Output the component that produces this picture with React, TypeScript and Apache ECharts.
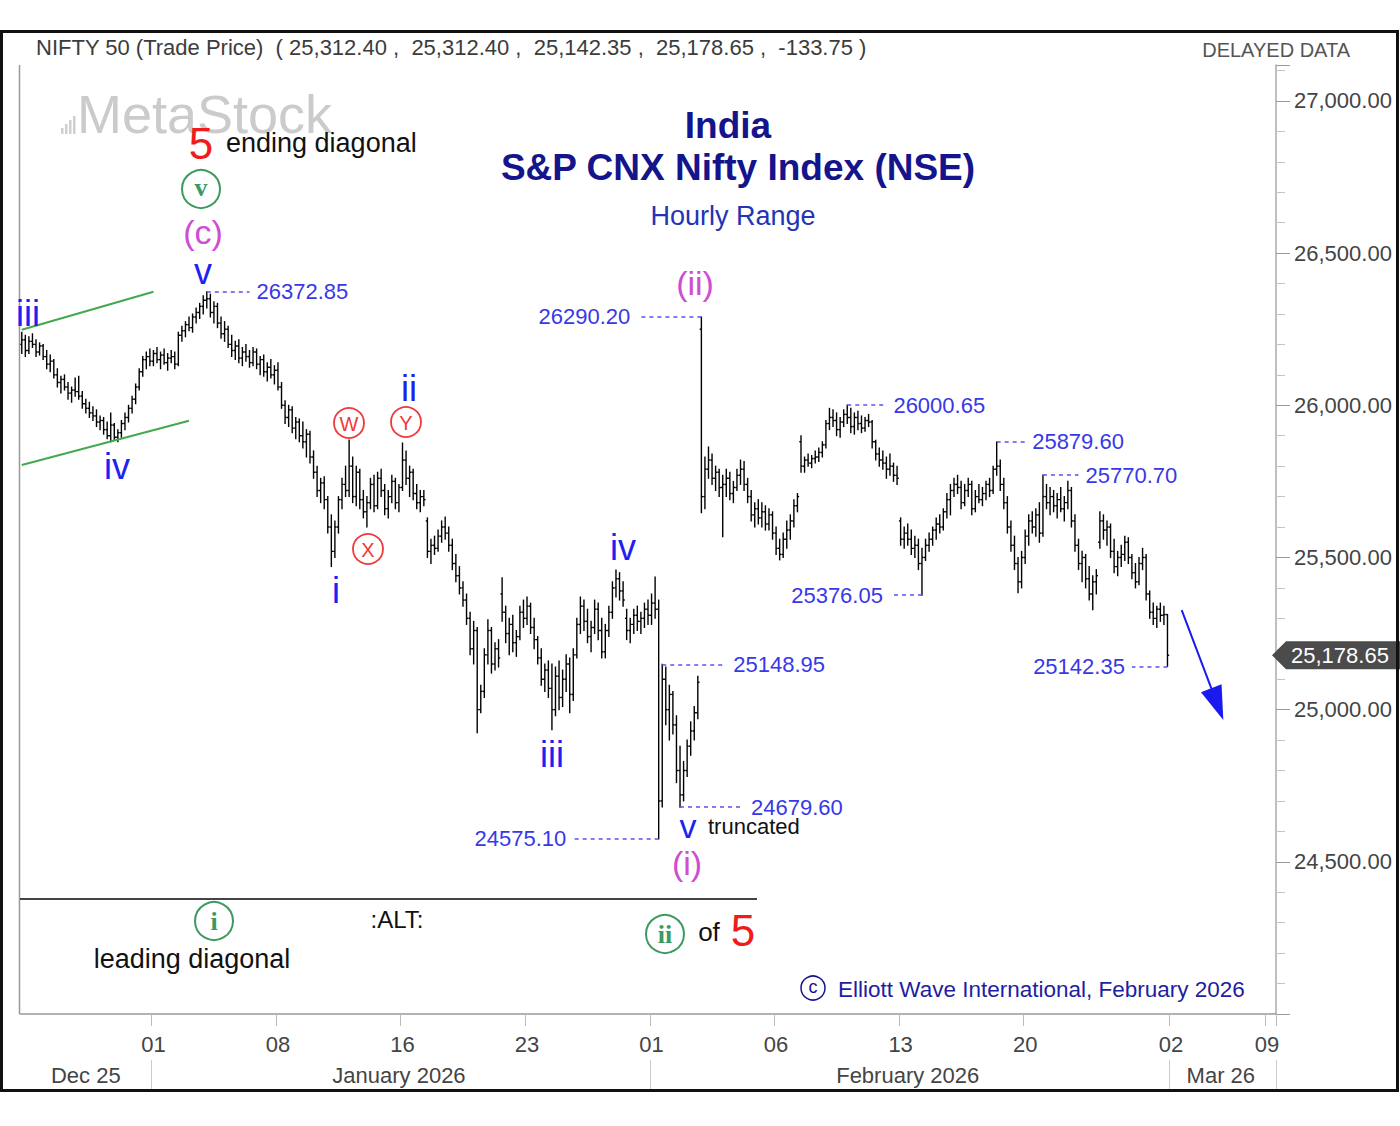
import React, { useEffect, useRef } from "react";
import * as echarts from "echarts";

// ---------- sessions (hourly bars per trading session) ----------
const sessionDates = [
  "2025-12-23", "2025-12-24", "2025-12-26", "2025-12-29", "2025-12-30", "2025-12-31",
  "2026-01-01", "2026-01-02", "2026-01-05", "2026-01-06", "2026-01-07", "2026-01-08",
  "2026-01-09", "2026-01-12", "2026-01-13", "2026-01-14", "2026-01-16", "2026-01-19",
  "2026-01-20", "2026-01-21", "2026-01-22", "2026-01-23", "2026-01-27", "2026-01-28",
  "2026-01-29", "2026-01-30", "2026-02-01", "2026-02-02", "2026-02-03", "2026-02-04",
  "2026-02-05", "2026-02-06", "2026-02-09", "2026-02-10", "2026-02-11", "2026-02-12",
  "2026-02-13", "2026-02-16", "2026-02-17", "2026-02-18", "2026-02-19", "2026-02-20",
  "2026-02-23", "2026-02-24", "2026-02-25", "2026-02-26", "2026-02-27",
];
const sessionBarCounts = [
  2, 7, 7, 7, 7, 7, 7, 7, 7, 7, 7, 7, 7, 7, 7, 7, 7, 7, 7, 7, 7, 7, 7, 7,
  7, 7, 7, 7, 7, 7, 7, 7, 7, 7, 7, 7, 7, 7, 7, 7, 7, 7, 7, 7, 7, 7, 6,
];
const futureDates = ["2026-03-02", "2026-03-03", "2026-03-04", "2026-03-05", "2026-03-06", "2026-03-09"];
const futureSlotCounts = [6, 6, 5, 5, 5, 3];

// ---------- hourly OHLC ----------
const opens = [
  26200, 26215,
  26180, 26210, 26200, 26175, 26195, 26160, 26135,
  26145, 26100, 26075, 26085, 26060, 26040, 26050,
  26045, 26030, 26005, 25990, 25975, 25965, 25945,
  25950, 25920, 25900, 25935, 25895, 25910, 25940,
  25960, 25990, 26020, 26060, 26110, 26150, 26160,
  26145, 26170, 26150, 26165, 26140, 26155, 26160,
  26135, 26230, 26245, 26265, 26255, 26290, 26305,
  26325, 26345, 26350, 26305, 26325, 26270, 26235,
  26250, 26200, 26180, 26195, 26155, 26175, 26160,
  26140, 26175, 26135, 26150, 26110, 26125, 26100,
  26115, 26060, 26000, 25960, 25985, 25925, 25945,
  25900, 25880, 25905, 25830, 25780, 25720, 25745,
  25690, 25600, 25520, 25600, 25690, 25740, 25720,
  25800, 25700, 25780, 25690, 25650, 25680, 25740,
  25670, 25760, 25720, 25660, 25700, 25750, 25680,
  25730, 25820, 25760, 25780, 25710, 25680, 25700,
  25620, 25520, 25540, 25530, 25570, 25600, 25580,
  25540, 25480, 25440, 25400, 25360, 25300, 25200,
  25260, 25000, 25060, 25180, 25260, 25150, 25200,
  25380, 25320, 25250, 25280, 25220, 25240, 25320,
  25300, 25340, 25270, 25230, 25170, 25100, 25130,
  25070, 25000, 25110, 25040, 25100, 25150, 25050,
  25180, 25280, 25340, 25290, 25240, 25270, 25330,
  25260, 25190, 25260, 25320, 25400, 25430, 25390,
  25300, 25260, 25280, 25310, 25290, 25300, 25330,
  25310, 25350, 25330, 24700, 25100, 25000, 25050,
  24950, 24800, 24720, 24800, 24880, 24930, 24990,
  26250, 25700, 25790, 25820, 25760, 25780, 25730,
  25740, 25760, 25710, 25730, 25770, 25790, 25740,
  25700, 25640, 25660, 25630, 25650, 25610, 25640,
  25580, 25530, 25510, 25560, 25590, 25620, 25670,
  25880, 25800, 25820, 25810, 25825, 25830, 25845,
  25870, 25940, 25960, 25950, 25920, 25945, 25970,
  25960, 25930, 25960, 25940, 25925, 25950, 25945,
  25880, 25840, 25820, 25810, 25790, 25800, 25770,
  25620, 25560, 25580, 25560, 25530, 25540, 25480,
  25500, 25540, 25560, 25590, 25610, 25600, 25650,
  25690, 25720, 25740, 25730, 25680, 25720, 25740,
  25660, 25700, 25690, 25710, 25740, 25720, 25790,
  25800, 25740, 25680, 25600, 25540, 25480, 25420,
  25500, 25570, 25620, 25600, 25640, 25580, 25700,
  25680, 25700, 25670, 25690, 25660, 25680, 25720,
  25620, 25540, 25480, 25500, 25430, 25380, 25420,
  25550, 25620, 25590, 25600, 25520, 25470, 25500,
  25510, 25550, 25500, 25450, 25420, 25480, 25500,
  25380, 25320, 25300, 25330, 25310, 25312.4,
];
const highs = [
  26240, 26230,
  26225, 26235, 26215, 26205, 26200, 26180, 26165,
  26150, 26120, 26095, 26100, 26075, 26060, 26090,
  26095, 26045, 26020, 26010, 25995, 25985, 25965,
  25960, 25945, 25975, 25940, 25920, 25950, 25975,
  26000, 26030, 26070, 26120, 26160, 26175, 26185,
  26180, 26190, 26175, 26185, 26170, 26180, 26175,
  26240, 26260, 26275, 26290, 26300, 26320, 26335,
  26360, 26372.85, 26365, 26340, 26335, 26290, 26275,
  26260, 26230, 26210, 26215, 26190, 26200, 26180,
  26190, 26185, 26160, 26165, 26140, 26150, 26130,
  26140, 26075, 26015, 26000, 25995, 25960, 25955,
  25945, 25920, 25915, 25850, 25800, 25760, 25765,
  25700, 25640, 25620, 25700, 25760, 25800, 25886,
  25830, 25800, 25790, 25720, 25700, 25760, 25770,
  25780, 25790, 25740, 25720, 25770, 25760, 25740,
  25876, 25850, 25800, 25790, 25740, 25720, 25720,
  25630, 25560, 25570, 25590, 25620, 25633, 25600,
  25560, 25510, 25470, 25420, 25380, 25320, 25290,
  25270, 25080, 25200, 25295, 25270, 25220, 25230,
  25433, 25340, 25300, 25310, 25260, 25340, 25360,
  25370, 25350, 25300, 25240, 25200, 25150, 25160,
  25150, 25140, 25160, 25130, 25180, 25170, 25200,
  25300, 25370, 25360, 25330, 25290, 25360, 25350,
  25300, 25280, 25340, 25420, 25459, 25450, 25420,
  25330, 25300, 25330, 25340, 25320, 25350, 25360,
  25380, 25436, 25360, 25148.95, 25140, 25080, 25060,
  24980, 24880, 24830, 24900, 24960, 25010, 25110,
  26290.2, 25830, 25863, 25840, 25800, 25790, 25770,
  25790, 25780, 25750, 25790, 25820, 25815, 25760,
  25720, 25680, 25690, 25680, 25670, 25660, 25650,
  25600, 25560, 25580, 25620, 25640, 25690, 25710,
  25900, 25830, 25840, 25835, 25850, 25860, 25880,
  25950, 25990, 25985, 25975, 25960, 25985, 26000.65,
  25990, 25975, 25980, 25965, 25960, 25970, 25950,
  25885, 25860, 25850, 25830, 25840, 25810, 25800,
  25630, 25600, 25610, 25590, 25570, 25560, 25530,
  25560, 25580, 25600, 25630, 25640, 25660, 25710,
  25740, 25760, 25770, 25750, 25740, 25760, 25750,
  25720, 25740, 25730, 25750, 25760, 25800, 25879.6,
  25820, 25760, 25700, 25620, 25570, 25500, 25520,
  25590, 25640, 25650, 25660, 25680, 25770.7, 25740,
  25730, 25720, 25710, 25730, 25700, 25750, 25730,
  25640, 25560, 25520, 25510, 25470, 25440, 25460,
  25650, 25640, 25620, 25610, 25560, 25520, 25540,
  25570, 25565, 25510, 25480, 25500, 25530, 25510,
  25390, 25350, 25340, 25350, 25340, 25312.4,
];
const lows = [
  26170, 26160,
  26170, 26190, 26160, 26165, 26150, 26120, 26110,
  26090, 26060, 26040, 26050, 26020, 26010, 26030,
  26020, 25990, 25975, 25960, 25950, 25930, 25920,
  25905, 25890, 25880, 25885, 25880, 25895, 25920,
  25945, 25975, 26005, 26050, 26095, 26120, 26130,
  26130, 26140, 26120, 26135, 26115, 26140, 26120,
  26130, 26210, 26225, 26245, 26240, 26270, 26285,
  26300, 26320, 26290, 26270, 26255, 26220, 26210,
  26190, 26160, 26150, 26140, 26130, 26145, 26125,
  26130, 26120, 26100, 26095, 26080, 26090, 26070,
  26050, 25990, 25940, 25930, 25910, 25890, 25880,
  25860, 25830, 25810, 25760, 25700, 25680, 25660,
  25580, 25470, 25500, 25580, 25660, 25700, 25700,
  25680, 25670, 25660, 25630, 25600, 25660, 25650,
  25660, 25700, 25640, 25630, 25680, 25660, 25650,
  25720, 25740, 25700, 25690, 25660, 25650, 25670,
  25500, 25480, 25510, 25520, 25550, 25560, 25520,
  25460, 25420, 25380, 25340, 25280, 25180, 25150,
  24924, 24990, 25040, 25150, 25120, 25130, 25140,
  25290, 25220, 25180, 25190, 25175, 25230, 25270,
  25280, 25250, 25200, 25150, 25080, 25060, 25040,
  24934, 24980, 25000, 25010, 25060, 24990, 25030,
  25170, 25250, 25260, 25220, 25190, 25250, 25230,
  25170, 25170, 25240, 25300, 25370, 25360, 25340,
  25230, 25220, 25250, 25260, 25250, 25270, 25280,
  25280, 25300, 24575.1, 24680, 24950, 24900, 24920,
  24760, 24679.6, 24700, 24780, 24850, 24900, 24970,
  25647, 25660, 25760, 25740, 25720, 25700, 25568,
  25700, 25690, 25680, 25720, 25740, 25720, 25680,
  25620, 25600, 25610, 25600, 25590, 25590, 25560,
  25510, 25492, 25500, 25530, 25560, 25600, 25650,
  25780, 25780, 25800, 25795, 25810, 25815, 25830,
  25860, 25920, 25930, 25900, 25895, 25930, 25940,
  25910, 25905, 25920, 25910, 25915, 25930, 25860,
  25820, 25800, 25790, 25760, 25770, 25750, 25740,
  25540, 25530, 25540, 25510, 25500, 25460, 25376.05,
  25490, 25520, 25540, 25560, 25580, 25590, 25630,
  25640, 25700, 25710, 25660, 25670, 25700, 25640,
  25650, 25680, 25670, 25690, 25700, 25710, 25770,
  25720, 25660, 25580, 25520, 25460, 25384, 25400,
  25480, 25540, 25580, 25570, 25550, 25570, 25660,
  25640, 25650, 25630, 25650, 25620, 25660, 25600,
  25520, 25460, 25420, 25400, 25360, 25328, 25380,
  25530, 25560, 25540, 25500, 25450, 25440, 25470,
  25490, 25480, 25430, 25400, 25410, 25460, 25360,
  25300, 25280, 25270, 25290, 25280, 25142.35,
];
const closes = [
  26215, 26180,
  26210, 26200, 26175, 26195, 26160, 26135, 26145,
  26100, 26075, 26085, 26060, 26040, 26050, 26045,
  26030, 26005, 25990, 25975, 25965, 25945, 25950,
  25920, 25900, 25935, 25895, 25910, 25940, 25960,
  25990, 26020, 26060, 26110, 26150, 26160, 26145,
  26170, 26150, 26165, 26140, 26155, 26160, 26135,
  26230, 26245, 26265, 26255, 26290, 26305, 26325,
  26345, 26350, 26305, 26325, 26270, 26235, 26250,
  26200, 26180, 26195, 26155, 26175, 26160, 26140,
  26175, 26135, 26150, 26110, 26125, 26100, 26115,
  26060, 26000, 25960, 25985, 25925, 25945, 25900,
  25880, 25905, 25830, 25780, 25720, 25745, 25690,
  25600, 25520, 25600, 25690, 25740, 25720, 25800,
  25700, 25780, 25690, 25650, 25680, 25740, 25670,
  25760, 25720, 25660, 25700, 25750, 25680, 25730,
  25820, 25760, 25780, 25710, 25680, 25700, 25690,
  25520, 25540, 25530, 25570, 25600, 25580, 25540,
  25480, 25440, 25400, 25360, 25300, 25200, 25260,
  25000, 25060, 25180, 25260, 25150, 25200, 25170,
  25320, 25250, 25280, 25220, 25240, 25320, 25300,
  25340, 25270, 25230, 25170, 25100, 25130, 25070,
  25000, 25110, 25040, 25100, 25150, 25050, 25180,
  25280, 25340, 25290, 25240, 25270, 25330, 25260,
  25190, 25260, 25320, 25400, 25430, 25390, 25360,
  25260, 25280, 25310, 25290, 25300, 25330, 25310,
  25350, 25330, 24700, 25100, 25000, 25050, 24950,
  24800, 24720, 24800, 24880, 24930, 24990, 25090,
  25700, 25790, 25820, 25760, 25780, 25730, 25740,
  25760, 25710, 25730, 25770, 25790, 25740, 25700,
  25640, 25660, 25630, 25650, 25610, 25640, 25580,
  25530, 25510, 25560, 25590, 25620, 25670, 25700,
  25800, 25820, 25810, 25825, 25830, 25845, 25870,
  25940, 25960, 25950, 25920, 25945, 25970, 25960,
  25930, 25960, 25940, 25925, 25950, 25945, 25880,
  25840, 25820, 25810, 25790, 25800, 25770, 25760,
  25560, 25580, 25560, 25530, 25540, 25480, 25500,
  25540, 25560, 25590, 25610, 25600, 25650, 25690,
  25720, 25740, 25730, 25680, 25720, 25740, 25660,
  25700, 25690, 25710, 25740, 25720, 25790, 25800,
  25740, 25680, 25600, 25540, 25480, 25420, 25500,
  25570, 25620, 25600, 25640, 25580, 25700, 25680,
  25700, 25670, 25690, 25660, 25680, 25720, 25620,
  25540, 25480, 25500, 25430, 25380, 25420, 25440,
  25620, 25590, 25600, 25520, 25470, 25500, 25510,
  25550, 25500, 25450, 25420, 25480, 25500, 25380,
  25320, 25300, 25330, 25310, 25312.4, 25178.65,
];

// ---------- axis labels ----------
const dayTickDates = [
  "2026-01-01", "2026-01-08", "2026-01-16", "2026-01-23", "2026-02-01",
  "2026-02-06", "2026-02-13", "2026-02-20", "2026-03-02", "2026-03-09",
];
const monthStartDates = ["2025-12-23", "2026-01-01", "2026-02-01", "2026-03-02"];
const monthLabels = ["Dec 25", "January 2026", "February 2026", "Mar 26"];

// ---------- annotated price levels ----------
const levelValues = [26372.85, 26290.2, 26000.65, 25879.6, 25770.7, 25376.05, 25148.95, 25142.35, 24679.6, 24575.1];
const levelBarSlot = [52, 191, 232, 274, 287, 253, 180, 322, 185, 179];
const levelLabelSlot = [64, 173, 243, 282, 297, 244, 198, 312, 203, 155];

// channel lines (slot, price) and forecast arrow
const channelUpper = [[0, 26248], [37, 26373]];
const channelLower = [[0, 25804], [47, 25949]];
const forecastArrow = [[326, 25327], [336, 25018]];

const FONT = "'Liberation Sans', Arial, Helvetica, sans-serif";
const SERIF = "'Liberation Serif', 'Times New Roman', serif";
const BLUE = "#1e22f0";
const PRICE_BLUE = "#3838e8";
const MAGENTA = "#d04cd0";
const GREEN = "#3c9a5e";
const RED = "#f01c1c";
const NAVY = "#14148c";

function txt(text: string, x: number, y: number, fill: string, size: number, opt: any = {}) {
  const align = opt.align || "center";
  return {
    type: "text",
    x,
    y,
    z: 50,
    silent: true,
    style: {
      text,
      fill,
      font: `${opt.weight || "normal"} ${size}px ${opt.family || FONT}`,
      align,
      verticalAlign: "middle",
      textAlign: align,
      textVerticalAlign: "middle",
    },
  };
}
function circ(cx: number, cy: number, r: number, stroke: string, lw = 2) {
  return { type: "circle", z: 50, silent: true, shape: { cx, cy, r }, style: { fill: "none", stroke, lineWidth: lw } };
}
function ln(x1: number, y1: number, x2: number, y2: number, stroke: string, lw: number) {
  return { type: "line", z: 50, silent: true, shape: { x1, y1, x2, y2 }, style: { stroke, lineWidth: lw } };
}
const fmt = (v: number) => v.toLocaleString("en-US", { minimumFractionDigits: 2, maximumFractionDigits: 2 });

function buildOption(tagY: number | null) {
  const categories: string[] = [];
  sessionDates.forEach((d, k) => {
    for (let j = 0; j < sessionBarCounts[k]; j++) categories.push(`${d} ${j + 1}`);
  });
  futureDates.forEach((d, k) => {
    for (let j = 0; j < futureSlotCounts[k]; j++) categories.push(`${d} ${j + 1}`);
  });
  const n = Math.min(opens.length, highs.length, lows.length, closes.length);
  const bars = [];
  for (let i = 0; i < n; i++) bars.push([i, opens[i], closes[i], lows[i], highs[i]]);

  const dayTickIdx = new Set(dayTickDates.map((d) => categories.indexOf(`${d} 1`)));
  const monthStarts = monthStartDates.map((d) => categories.indexOf(`${d} 1`));
  const monthMid: Record<number, string> = {};
  monthStarts.forEach((s, k) => {
    const e = k + 1 < monthStarts.length ? monthStarts[k + 1] - 1 : categories.length - 1;
    monthMid[Math.floor((s + e) / 2)] = monthLabels[k];
  });
  const monthSep = new Set(monthStarts.filter((s) => s > 0));

  const last = n - 1;
  const header =
    `NIFTY 50 (Trade Price)\u00a0\u00a0( ${fmt(opens[last])} ,\u00a0\u00a0${fmt(highs[last])} ,\u00a0\u00a0` +
    `${fmt(lows[last])} ,\u00a0\u00a0${fmt(closes[last])} ,\u00a0\u00a0${(closes[last] - closes[last - 1]).toFixed(2)} )`;

  const levelLines = levelValues.map((v, k) => [
    {
      coord: [levelBarSlot[k], v],
      lineStyle: { type: [4, 4], color: "#5656ee", width: 1.6 },
      label: {
        show: true,
        position: "end",
        formatter: v.toFixed(2),
        color: PRICE_BLUE,
        fontSize: 22,
        fontFamily: FONT,
        distance: 7,
        padding: v === 24679.6 ? [0, 0, 12, 0] : 0,
      },
    },
    { coord: [levelLabelSlot[k], v] },
  ]);
  const greenStyle = { type: "solid", color: "#44a84e", width: 2 };
  const markData: any[] = [
    ...levelLines,
    [{ coord: channelUpper[0], lineStyle: greenStyle, label: { show: false } }, { coord: channelUpper[1] }],
    [{ coord: channelLower[0], lineStyle: greenStyle, label: { show: false } }, { coord: channelLower[1] }],
    [
      { coord: forecastArrow[0], symbol: "none", lineStyle: { type: "solid", color: "#1a1aee", width: 2 }, label: { show: false } },
      { coord: forecastArrow[1], symbol: "triangle", symbolSize: [22, 34] },
    ],
  ];

  const graphics: any[] = [
    // outer frame and plot borders
    { type: "rect", z: 60, silent: true, shape: { x: 1.5, y: 31.5, width: 1396, height: 1059 }, style: { fill: "none", stroke: "#111", lineWidth: 3 } },
    ln(19.5, 65, 19.5, 1014, "#999", 1.5),
    // watermark
    { type: "rect", z: 1, silent: true, shape: { x: 61, y: 128, width: 2.5, height: 6 }, style: { fill: "#cfcfcf" } },
    { type: "rect", z: 1, silent: true, shape: { x: 65, y: 124, width: 2.5, height: 10 }, style: { fill: "#cfcfcf" } },
    { type: "rect", z: 1, silent: true, shape: { x: 69, y: 120, width: 2.5, height: 14 }, style: { fill: "#cfcfcf" } },
    { type: "rect", z: 1, silent: true, shape: { x: 73, y: 116, width: 2.5, height: 18 }, style: { fill: "#cfcfcf" } },
    { ...txt("MetaStock", 77, 114, "#cbcbcb", 54, { align: "left" }), z: 1 },
    // header
    txt(header, 36, 47, "#3c3c3c", 22, { align: "left" }),
    txt("DELAYED DATA", 1350, 50, "#555", 20, { align: "right" }),
    // title
    txt("India", 728, 125, NAVY, 37, { weight: "bold" }),
    txt("S&P CNX Nifty Index (NSE)", 738, 167, NAVY, 37, { weight: "bold" }),
    txt("Hourly Range", 733, 216, "#2434b4", 27),
    // wave labels
    txt("iii", 28, 313, BLUE, 36),
    txt("iv", 117, 466, BLUE, 36),
    txt("v", 203, 271, BLUE, 36),
    txt("i", 336, 590, BLUE, 36),
    txt("ii", 409, 388, BLUE, 36),
    txt("iii", 552, 754, BLUE, 36),
    txt("iv", 623, 547, BLUE, 36),
    txt("v", 688, 826, BLUE, 34),
    txt("truncated", 708, 826, "#111", 22, { align: "left" }),
    txt("(ii)", 695, 283, MAGENTA, 34),
    txt("(i)", 687, 863, MAGENTA, 34),
    txt("(c)", 203, 232, MAGENTA, 34),
    circ(201, 189, 19, GREEN),
    txt("v", 201, 187, GREEN, 26, { family: SERIF, weight: "bold" }),
    txt("5", 201, 143, RED, 44),
    txt("ending diagonal", 226, 143, "#111", 27, { align: "left" }),
    circ(349, 423, 15, "#ee3a3a", 1.8),
    txt("W", 349, 424, "#ee3a3a", 20),
    circ(368, 549, 15, "#ee3a3a", 1.8),
    txt("X", 368, 550, "#ee3a3a", 20),
    circ(406, 422, 15, "#ee3a3a", 1.8),
    txt("Y", 406, 423, "#ee3a3a", 20),
    // alternate count
    ln(20, 899, 757, 899, "#444", 2),
    circ(214, 921, 19, GREEN),
    txt("i", 214, 921, GREEN, 26, { family: SERIF, weight: "bold" }),
    txt("leading diagonal", 192, 959, "#111", 27),
    txt(":ALT:", 397, 919, "#111", 24),
    circ(665, 934, 19, GREEN),
    txt("ii", 665, 934, GREEN, 26, { family: SERIF, weight: "bold" }),
    txt("of", 709, 932, "#111", 26),
    txt("5", 743, 930, RED, 44),
    // copyright
    circ(813, 988, 12, NAVY, 1.5),
    txt("c", 813, 987, NAVY, 18),
    txt("Elliott Wave International, February 2026", 838, 989, "#1e1ea0", 22.5, { align: "left" }),
  ];
  if (tagY != null) {
    graphics.push({
      type: "polygon",
      z: 55,
      silent: true,
      shape: { points: [[1272, tagY], [1286, tagY - 14], [1400, tagY - 14], [1400, tagY + 14], [1286, tagY + 14]] },
      style: { fill: "#4b4b4b" },
    });
    graphics.push({ ...txt(fmt(closes[last]), 1291, tagY, "#fff", 22, { align: "left" }), z: 56 });
  }

  return {
    animation: false,
    backgroundColor: "#fff",
    textStyle: { fontFamily: FONT },
    grid: { left: 20, right: 124, top: 65, bottom: 112, containLabel: false },
    xAxis: [
      {
        type: "category",
        data: categories,
        boundaryGap: true,
        axisLine: { show: true, lineStyle: { color: "#999", width: 1.5 } },
        axisTick: { show: true, interval: (i: number) => dayTickIdx.has(i), length: 12, lineStyle: { color: "#bbb" } },
        axisLabel: {
          interval: (i: number) => dayTickIdx.has(i),
          formatter: (v: string) => v.slice(8, 10),
          margin: 19,
          fontSize: 22,
          color: "#444",
          fontFamily: FONT,
        },
        splitLine: { show: false },
      },
      {
        type: "category",
        data: categories,
        boundaryGap: true,
        position: "bottom",
        offset: 46,
        axisLine: { show: false },
        axisTick: { show: true, interval: (i: number) => monthSep.has(i), length: 30, lineStyle: { color: "#ccc" } },
        axisLabel: {
          interval: (i: number) => monthMid[i] !== undefined,
          formatter: (_v: string, i: number) => monthMid[i] || "",
          margin: 4,
          fontSize: 22,
          color: "#444",
          fontFamily: FONT,
        },
        splitLine: { show: false },
      },
    ],
    yAxis: {
      type: "value",
      position: "right",
      min: 24000,
      max: 27118,
      interval: 500,
      scale: false,
      axisLine: { show: true, lineStyle: { color: "#aaa", width: 1.5 } },
      axisTick: { show: true, length: 14, lineStyle: { color: "#999" } },
      minorTick: { show: true, splitNumber: 5, length: 9, lineStyle: { color: "#c4c4c4" } },
      splitLine: { show: false },
      axisLabel: {
        margin: 18,
        fontSize: 22,
        color: "#444",
        fontFamily: FONT,
        showMinLabel: false,
        showMaxLabel: false,
        formatter: (v: number) => fmt(v),
      },
    },
    series: [
      {
        type: "custom",
        name: "NIFTY 50",
        data: bars,
        encode: { x: 0, y: [1, 2, 3, 4] },
        z: 5,
        silent: true,
        renderItem: (_p: any, api: any) => {
          const x = api.value(0);
          const pO = api.coord([x, api.value(1)]);
          const pC = api.coord([x, api.value(2)]);
          const pL = api.coord([x, api.value(3)]);
          const pH = api.coord([x, api.value(4)]);
          const st = { stroke: "#000", lineWidth: 1.4 };
          const half = 1.7;
          return {
            type: "group",
            children: [
              { type: "line", shape: { x1: pH[0], y1: pH[1] - 0.5, x2: pL[0], y2: pL[1] + 0.5 }, style: st },
              { type: "line", shape: { x1: pO[0] - half, y1: pO[1], x2: pO[0], y2: pO[1] }, style: st },
              { type: "line", shape: { x1: pC[0], y1: pC[1], x2: pC[0] + half, y2: pC[1] }, style: st },
            ],
          };
        },
      },
      {
        type: "line",
        name: "annotations",
        data: [],
        silent: true,
        symbol: "none",
        markLine: {
          silent: true,
          animation: false,
          symbol: ["none", "none"],
          data: markData,
        },
      },
    ],
    graphic: graphics,
  };
}

export default function App() {
  const ref = useRef<HTMLDivElement>(null);
  useEffect(() => {
    document.body.style.margin = "0";
    const el = ref.current!;
    const chart = echarts.init(el, undefined, { renderer: "svg" });
    chart.setOption(buildOption(null) as any);
    const last = closes.length - 1;
    const p = chart.convertToPixel({ gridIndex: 0 } as any, [last, closes[last]]) as number[];
    chart.setOption(buildOption(p && isFinite(p[1]) ? p[1] : null) as any, { notMerge: true });
    return () => chart.dispose();
  }, []);
  return <div ref={ref} style={{ width: 1400, height: 1126 }} />;
}
